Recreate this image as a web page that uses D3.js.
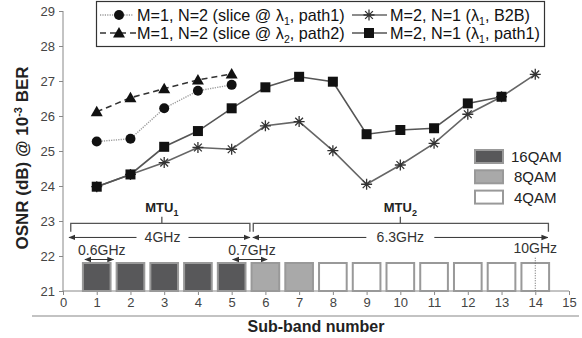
<!DOCTYPE html>
<html>
<head>
<meta charset="utf-8">
<script src="https://cdn.jsdelivr.net/npm/d3@7"></script>
<style>
  body { margin: 0; background: #fff; }
  svg { font-family: "Liberation Sans", Arial, sans-serif; }
</style>
</head>
<body>
<svg width="582" height="338"></svg>
<script>
// sub-band numbers and the four measured curves
var bands = [1, 2, 3, 4, 5, 6, 7, 8, 9, 10, 11, 12, 13, 14];
var slice1 = [25.27, 25.35, 26.22, 26.72, 26.89];          // M=1,N=2 lambda1 path1
var slice2 = [26.12, 26.52, 26.78, 27.03, 27.2];           // M=1,N=2 lambda2 path2
var b2b = [23.98, 24.33, 24.67, 25.1, 25.05, 25.72, 25.84, 25.01, 24.05, 24.6, 25.22, 26.05, 26.55, 27.19];
var path1 = [23.98, 24.33, 25.12, 25.57, 26.22, 26.82, 27.12, 26.98, 25.48, 25.6, 25.65, 26.36, 26.55];
var modFormat = ['16QAM', '16QAM', '16QAM', '16QAM', '16QAM', '8QAM', '8QAM',
  '4QAM', '4QAM', '4QAM', '4QAM', '4QAM', '4QAM', '4QAM'];
var modNames = ['16QAM', '8QAM', '4QAM'];
var yTicks = [21, 22, 23, 24, 25, 26, 27, 28, 29];
var xTicks = d3.range(0, 16);

var svg = d3.select('svg');

// set the ranges
var x = d3.scaleLinear().domain([0, 15]).range([63, 569]);
var y = d3.scaleLinear().domain([21, 29]).range([291, 11]);

var modFill = { '16QAM': '#58585a', '8QAM': '#a9a9a9', '4QAM': '#ffffff' };

svg.append('defs').append('marker')
  .attr('id', 'arr')
  .attr('viewBox', '0 0 10 10')
  .attr('refX', 9).attr('refY', 5)
  .attr('markerWidth', 7).attr('markerHeight', 7)
  .attr('orient', 'auto-start-reverse')
  .append('path')
  .attr('d', 'M0,1 L10,5 L0,9 z')
  .attr('fill', '#333');

// axes
var xAxis = svg.append('g')
  .attr('transform', 'translate(0,' + y(21) + ')')
  .call(d3.axisBottom(x).tickValues(xTicks).tickSize(4).tickPadding(3));
var yAxis = svg.append('g')
  .attr('transform', 'translate(' + x(0) + ',0)')
  .call(d3.axisLeft(y).tickValues(yTicks).tickSize(4).tickPadding(4));
[xAxis, yAxis].forEach(function (a) {
  a.select('.domain').attr('stroke', '#888');
  a.selectAll('.tick line').attr('stroke', '#888');
  a.selectAll('.tick text').attr('fill', '#444').style('font-size', '13px')
    .style('font-family', '"Liberation Sans", Arial, sans-serif');
});
yAxis.select('.domain').attr('d', 'M0,' + y(29) + 'V' + y(21));
xAxis.select('.domain').attr('d', 'M' + x(0) + ',0H' + x(15));

// separator under the tick labels
svg.append('line')
  .attr('x1', 32).attr('x2', 579).attr('y1', 316).attr('y2', 316)
  .attr('stroke', '#888').attr('stroke-width', 1.2);

// sub-band boxes
var bw = 0.82;
svg.selectAll('.band')
  .data(bands)
  .enter().append('rect')
  .attr('class', 'band')
  .attr('x', function (d) { return x(d - bw / 2); })
  .attr('y', y(21.8))
  .attr('width', x(bw) - x(0))
  .attr('height', y(21) - y(21.8))
  .attr('fill', function (d, i) { return modFill[modFormat[i]]; })
  .attr('stroke', '#999')
  .attr('stroke-width', 2);

// 10GHz dotted marker
svg.append('line')
  .attr('x1', x(14)).attr('x2', x(14)).attr('y1', y(21.95)).attr('y2', y(21))
  .attr('stroke', '#666').attr('stroke-dasharray', '1,1.5');
svg.append('text').attr('x', x(14)).attr('y', 253).attr('text-anchor', 'middle')
  .style('font-size', '14px').attr('fill', '#333').text('10GHz');

// brackets for MTU1 and MTU2
function bracket(x1, x2, xm, label) {
  svg.append('path')
    .attr('d', 'M' + x(x1) + ',' + y(22.69) + 'V' + y(22.93) + 'H' + x(x2) + 'V' + y(22.69) +
      'M' + x(xm) + ',' + y(22.93) + 'V' + y(23.12))
    .attr('fill', 'none').attr('stroke', '#555').attr('stroke-width', 1.3);
  var t = svg.append('text').attr('x', x(xm)).attr('y', y(23.26))
    .attr('text-anchor', 'middle').style('font-size', '13px').style('font-weight', 'bold')
    .attr('fill', '#222');
  t.append('tspan').text('MTU');
  t.append('tspan').attr('dy', 4).style('font-size', '9px').text(label);
}
bracket(0.23, 5.54, 2.93, '1');
bracket(5.64, 14.39, 10, '2');

// double arrows with labels
function span(x1, x2, yv, label, xl, gap) {
  var g = svg.append('g');
  if (gap) {
    g.append('line').attr('x1', x(x1)).attr('x2', x(xl) - gap).attr('y1', y(yv)).attr('y2', y(yv))
      .attr('stroke', '#333').attr('marker-start', 'url(#arr)');
    g.append('line').attr('x1', x(xl) + gap).attr('x2', x(x2)).attr('y1', y(yv)).attr('y2', y(yv))
      .attr('stroke', '#333').attr('marker-end', 'url(#arr)');
    g.append('text').attr('x', x(xl)).attr('y', y(yv) + 5).attr('text-anchor', 'middle')
      .style('font-size', '14px').attr('fill', '#333').text(label);
  } else {
    g.append('line').attr('x1', x(x1)).attr('x2', x(x2)).attr('y1', y(yv)).attr('y2', y(yv))
      .attr('stroke', '#333').attr('marker-start', 'url(#arr)').attr('marker-end', 'url(#arr)');
    g.append('text').attr('x', x(xl)).attr('y', y(yv) - 5).attr('text-anchor', 'middle')
      .style('font-size', '14px').attr('fill', '#333').text(label);
  }
}
span(0.18, 5.54, 22.53, '4GHz', 2.95, 26);
span(5.63, 14.37, 22.53, '6.3GHz', 10, 34);
span(0.65, 1.5, 21.9, '0.6GHz', 1.15, 0);
span(5.03, 6.05, 21.9, '0.7GHz', 5.6, 0);

// curves
var line = d3.line()
  .x(function (d) { return x(d.x); })
  .y(function (d) { return y(d.y); });

function pts(vals) {
  return vals.map(function (v, i) { return { x: bands[i], y: v }; });
}

var series = [
  { id: 'b2b', values: pts(b2b), stroke: '#666', dash: null, width: 1.6, marker: 'star' },
  { id: 'path1', values: pts(path1), stroke: '#555', dash: null, width: 1.6, marker: 'square' },
  { id: 'slice1', values: pts(slice1), stroke: '#999', dash: '1.2,1.2', width: 1.4, marker: 'circle' },
  { id: 'slice2', values: pts(slice2), stroke: '#333', dash: '6,4', width: 1.6, marker: 'triangle' }
];

function drawMarker(g, type, cx, cy) {
  if (type === 'circle') {
    g.append('circle').attr('cx', cx).attr('cy', cy).attr('r', 5).attr('fill', '#111');
  } else if (type === 'square') {
    g.append('rect').attr('x', cx - 5).attr('y', cy - 5).attr('width', 10).attr('height', 10).attr('fill', '#111');
  } else if (type === 'triangle') {
    g.append('path').attr('d', 'M' + cx + ',' + (cy - 6) + 'L' + (cx + 6) + ',' + (cy + 4.5) + 'L' + (cx - 6) + ',' + (cy + 4.5) + 'Z')
      .attr('fill', '#111');
  } else {
    var r = 5.5, p = '';
    [0, 45, 90, 135].forEach(function (a) {
      var dx = r * Math.cos(a * Math.PI / 180), dy = r * Math.sin(a * Math.PI / 180);
      p += 'M' + (cx - dx) + ',' + (cy - dy) + 'L' + (cx + dx) + ',' + (cy + dy);
    });
    g.append('path').attr('d', p).attr('stroke', '#333').attr('stroke-width', 1.3);
  }
}

series.forEach(function (s) {
  var g = svg.append('g').attr('class', 'run');
  g.append('path')
    .attr('d', line(s.values))
    .attr('fill', 'none')
    .attr('stroke', s.stroke)
    .attr('stroke-width', s.width)
    .attr('stroke-dasharray', s.dash);
  s.values.forEach(function (d) { drawMarker(g, s.marker, x(d.x), y(d.y)); });
});

// curve legend
var leg = svg.append('g');
leg.append('rect').attr('x', 96.5).attr('y', 1.5).attr('width', 448).attr('height', 45)
  .attr('fill', '#fff').attr('stroke', '#333').attr('stroke-width', 1.2);
var legItems = [
  { s: series[2], x0: 100, x1: 133, mx: 119, ty: 15, tx: 137, text: ['M=1, N=2 (slice @ λ', '1', ', path1)'] },
  { s: series[3], x0: 100, x1: 137, mx: 119, ty: 33, tx: 137, text: ['M=1, N=2 (slice @ λ', '2', ', path2)'] },
  { s: series[0], x0: 352, x1: 387, mx: 369, ty: 15, tx: 390, text: ['M=2, N=1 (λ', '1', ', B2B)'] },
  { s: series[1], x0: 352, x1: 387, mx: 369, ty: 33, tx: 390, text: ['M=2, N=1 (λ', '1', ', path1)'] }
];
legItems.forEach(function (it) {
  leg.append('line').attr('x1', it.x0).attr('x2', it.x1).attr('y1', it.ty).attr('y2', it.ty)
    .attr('stroke', it.s.stroke).attr('stroke-width', it.s.width).attr('stroke-dasharray', it.s.dash);
  drawMarker(leg, it.s.marker, it.mx, it.ty);
  var t = leg.append('text').attr('x', it.tx).attr('y', it.ty + 5.5)
    .style('font-size', '16.2px').attr('fill', '#111');
  t.append('tspan').text(it.text[0]);
  t.append('tspan').attr('dy', 4).style('font-size', '10.5px').text(it.text[1]);
  t.append('tspan').attr('dy', -4).text(it.text[2]);
});

// modulation legend
var mod = svg.selectAll('.mod')
  .data(modNames)
  .enter().append('g')
  .attr('class', 'mod')
  .attr('transform', function (d, i) { return 'translate(475,' + (150 + i * 20.3) + ')'; });
mod.append('rect').attr('width', 28).attr('height', 13)
  .attr('fill', function (d) { return modFill[d]; })
  .attr('stroke', '#999').attr('stroke-width', 2);
mod.append('text').attr('x', function (d, i) { return i === 0 ? 36 : 39; }).attr('y', 12)
  .style('font-size', '15px').attr('fill', '#222').text(function (d) { return d; });

// axis titles
var yt = svg.append('text')
  .attr('transform', 'translate(28,158) rotate(-90)')
  .attr('text-anchor', 'middle')
  .style('font-size', '17px').style('font-weight', 'bold').attr('fill', '#222');
yt.append('tspan').text('OSNR (dB) @ 10');
yt.append('tspan').attr('dy', -6).style('font-size', '11px').text('-3');
yt.append('tspan').attr('dy', 6).text(' BER');

svg.append('text').attr('x', 316).attr('y', 332).attr('text-anchor', 'middle')
  .style('font-size', '16px').style('font-weight', 'bold').attr('fill', '#222')
  .text('Sub-band number');
</script>
</body>
</html>
